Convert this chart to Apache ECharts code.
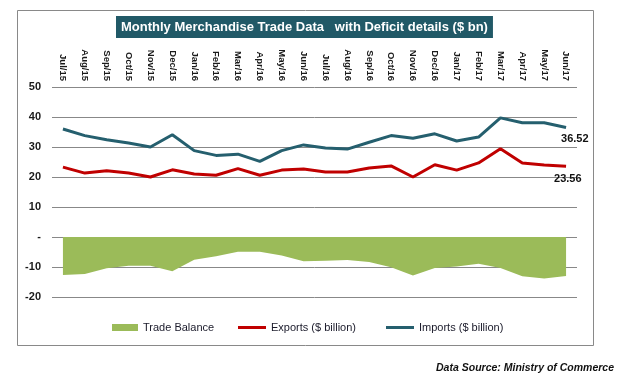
<!DOCTYPE html>
<html>
<head>
<meta charset="utf-8">
<script src="https://cdn.jsdelivr.net/npm/echarts@6/dist/echarts.min.js"></script>
<style>
html,body{margin:0;padding:0;background:#fff;}
#chart{width:625px;height:387px;}
</style>
</head>
<body>
<div id="chart"></div>
<script>
const categories = ['Jul/15','Aug/15','Sep/15','Oct/15','Nov/15','Dec/15','Jan/16','Feb/16','Mar/16','Apr/16','May/16','Jun/16','Jul/16','Aug/16','Sep/16','Oct/16','Nov/16','Dec/16','Jan/17','Feb/17','Mar/17','Apr/17','May/17','Jun/17'];
const imports = [36.0,33.8,32.4,31.3,30.0,34.1,28.8,27.2,27.6,25.2,28.8,30.7,29.7,29.3,31.6,33.8,32.9,34.4,32.0,33.3,39.7,38.1,38.1,36.52];
const exports_ = [23.3,21.3,22.1,21.3,20.0,22.4,21.0,20.6,22.8,20.6,22.3,22.7,21.7,21.7,23.0,23.7,20.0,24.1,22.3,24.7,29.4,24.7,24.0,23.56];
const tradeBalance = [-12.7,-12.3,-10.4,-9.6,-9.6,-11.4,-7.6,-6.4,-4.9,-4.9,-6.2,-8.1,-7.9,-7.7,-8.3,-10.1,-12.8,-10.3,-9.8,-8.9,-10.3,-13.1,-13.8,-12.96];
const yTicks = [-20,-10,0,10,20,30,40,50];

const chart = echarts.init(document.getElementById('chart'), null, {renderer:'canvas'});
const endLabelStyle = {fontFamily:'Liberation Sans', fontWeight:'bold', fontSize:11, color:'#111'};
const option = {
  animation:false,
  backgroundColor:'#ffffff',
  title:{
    text:'Monthly Merchandise Trade Data   with Deficit details ($ bn)',
    left:116, top:16,
    padding:[5,5,4,5],
    backgroundColor:'#215967',
    textStyle:{color:'#ffffff', fontFamily:'Liberation Sans Narrow, Liberation Sans', fontWeight:'bold', fontSize:13, lineHeight:13}
  },
  grid:{left:52, right:48, top:87, bottom:90, containLabel:false},
  legend:[
    {data:['Trade Balance'], left:107, top:317, icon:'rect', itemWidth:26, itemHeight:7, textStyle:{fontFamily:'Liberation Sans', fontSize:11, color:'#1a1a2a'}},
    {data:['Exports ($ billion)'], left:233, top:317, icon:'rect', itemWidth:28, itemHeight:3, textStyle:{fontFamily:'Liberation Sans', fontSize:11, color:'#1a1a2a'}},
    {data:['Imports ($ billion)'], left:381, top:317, icon:'rect', itemWidth:28, itemHeight:3, textStyle:{fontFamily:'Liberation Sans', fontSize:11, color:'#1a1a2a'}}
  ],
  xAxis:{
    type:'category', data:categories, position:'top', boundaryGap:true,
    axisLine:{show:false, onZero:false}, axisTick:{show:false},
    axisLabel:{rotate:90, interval:0, margin:6, fontFamily:'Liberation Sans', fontWeight:'bold', fontSize:9.5, color:'#1a1a1a'},
    splitLine:{show:false}
  },
  yAxis:{
    type:'value', min:yTicks[0], max:yTicks[yTicks.length-1], interval:10,
    axisLine:{show:false}, axisTick:{show:false},
    axisLabel:{margin:11, fontFamily:'Liberation Sans', fontWeight:'bold', fontSize:11, color:'#1a1a1a', formatter:(v)=> v===0 ? '-' : String(v)},
    splitLine:{show:true, lineStyle:{color:'#888888', width:1}}
  },
  series:[
    {name:'Trade Balance', type:'line', data:tradeBalance, showSymbol:false, symbol:'none',
     itemStyle:{color:'#9bbb59'}, lineStyle:{width:0, color:'#9bbb59'}, areaStyle:{color:'#9bbb59', opacity:1, origin:0}, z:1},
    {name:'Exports ($ billion)', type:'line', data:exports_, symbol:'none', showSymbol:false,
     itemStyle:{color:'#c00000'}, lineStyle:{width:3, color:'#c00000'}, z:3,
     endLabel:Object.assign({show:true, distance:5, offset:[-17,12.5], formatter:(p)=>Number(p.value).toFixed(2)}, endLabelStyle)},
    {name:'Imports ($ billion)', type:'line', data:imports, symbol:'none', showSymbol:false,
     itemStyle:{color:'#255f6e'}, lineStyle:{width:3, color:'#255f6e'}, z:3,
     endLabel:Object.assign({show:true, distance:5, offset:[-10,11.5], formatter:(p)=>Number(p.value).toFixed(2)}, endLabelStyle)}
  ],
  graphic:[
    {type:'rect', left:15, top:8, shape:{x:0,y:0,width:576,height:335}, style:{fill:'none', stroke:'#898989', lineWidth:1}, silent:true, z:-1},
    {type:'text', right:11, top:363, style:{text:'Data Source: Ministry of Commerce', fontFamily:'Liberation Sans', fontSize:10.5, fontWeight:'bold', fontStyle:'italic', fill:'#111111'}}
  ]
};
chart.setOption(option);
</script>
</body>
</html>
